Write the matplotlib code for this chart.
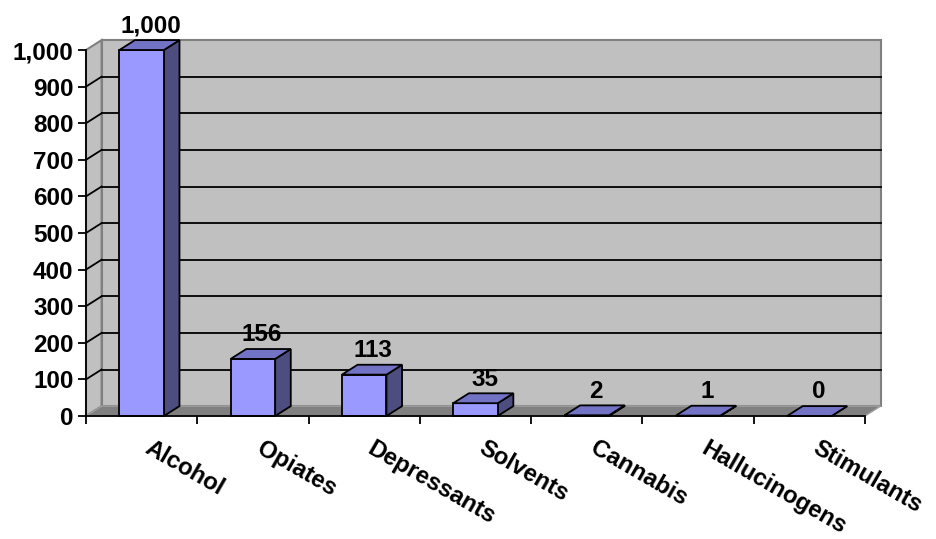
import matplotlib
matplotlib.use('Agg')
import matplotlib.pyplot as plt
from matplotlib.patches import Polygon

plt.rcParams['font.family'] = ['Liberation Sans', 'DejaVu Sans']
plt.rcParams['font.weight'] = 'bold'

categories = ['Alcohol', 'Opiates', 'Depressants', 'Solvents', 'Cannabis',
              'Hallucinogens', 'Stimulants']
values = [1000, 156, 113, 35, 2, 1, 0]
yticks = list(range(0, 1001, 100))

# depth of the fake 3d box, in data units
dx = 0.14
dy = 27
half = 0.2
fs = 17.5

fig = plt.figure(figsize=(9.36, 5.39), dpi=100)
ax = fig.add_axes([86 / 936, 1 - 416 / 539, 779 / 936, 366 / 539])
n = len(categories)
ax.set_xlim(0, n)
ax.set_ylim(0, 1000)
ax.patch.set_visible(False)
for s in ['top', 'right']:
    ax.spines[s].set_visible(False)
ax.spines['left'].set_linewidth(1.3)
ax.spines['bottom'].set_linewidth(1.3)
ax.spines['left'].set_zorder(6)
ax.spines['bottom'].set_zorder(6)

top = yticks[-1]
# walls and floor
back = Polygon([(dx, dy), (n + dx, dy), (n + dx, top + dy), (dx, top + dy)],
               closed=True, fc='#C0C0C0', ec='#808080', lw=1.5, zorder=1, clip_on=False)
side = Polygon([(0, 0), (dx, dy), (dx, top + dy), (0, top)],
               closed=True, fc='#C0C0C0', ec='#808080', lw=1.5, zorder=1, clip_on=False)
floor = Polygon([(0, 0), (n, 0), (n + dx, dy), (dx, dy)],
                closed=True, fc='#808080', ec='#A0A0A0', lw=1, zorder=2, clip_on=False)
ax.add_patch(back)
ax.add_patch(side)
ax.add_patch(floor)

for v in yticks[1:-1]:
    ax.plot([dx, n + dx], [v + dy, v + dy], color='black', lw=1.3, zorder=2, clip_on=False)
    ax.plot([0, dx], [v, v + dy], color='black', lw=1.3, zorder=2, clip_on=False)

# bars
for i, v in enumerate(values):
    c = i + 0.5
    x0, x1 = c - half, c + half
    front = Polygon([(x0, 0), (x1, 0), (x1, v), (x0, v)], closed=True,
                    fc='#9999FF', ec='black', lw=1.3, zorder=4, clip_on=False)
    topf = Polygon([(x0, v), (x1, v), (x1 + dx, v + dy), (x0 + dx, v + dy)], closed=True,
                   fc='#7373C6', ec='black', lw=1.3, zorder=4, clip_on=False)
    sidef = Polygon([(x1, 0), (x1 + dx, dy), (x1 + dx, v + dy), (x1, v)], closed=True,
                    fc='#4D4D80', ec='black', lw=1.3, zorder=4, clip_on=False)
    ax.add_patch(sidef)
    ax.add_patch(front)
    ax.add_patch(topf)
    ax.annotate(f'{v:,}', xy=(c + dx / 2, v + dy), xytext=(1, 2), textcoords='offset points',
                ha='center', va='bottom', fontsize=fs, fontweight='bold', zorder=7,
                annotation_clip=False)

ax.set_yticks(yticks)
ax.set_yticklabels([f'{v:,}' for v in yticks])
ax.tick_params(axis='y', direction='out', length=6, width=1.3, pad=3, labelsize=fs)
ax.set_xticks(range(n + 1))
ax.set_xticklabels([])
ax.tick_params(axis='x', direction='out', length=5.5, width=1.3)

for i, cat in enumerate(categories):
    ax.annotate(cat, xy=(i + 0.5, 0), xytext=(8, -15), textcoords='offset points',
                rotation=-30, rotation_mode='anchor', ha='left', va='top',
                fontsize=17.2, fontweight='bold', annotation_clip=False)

fig.savefig('out.png', dpi=100)
